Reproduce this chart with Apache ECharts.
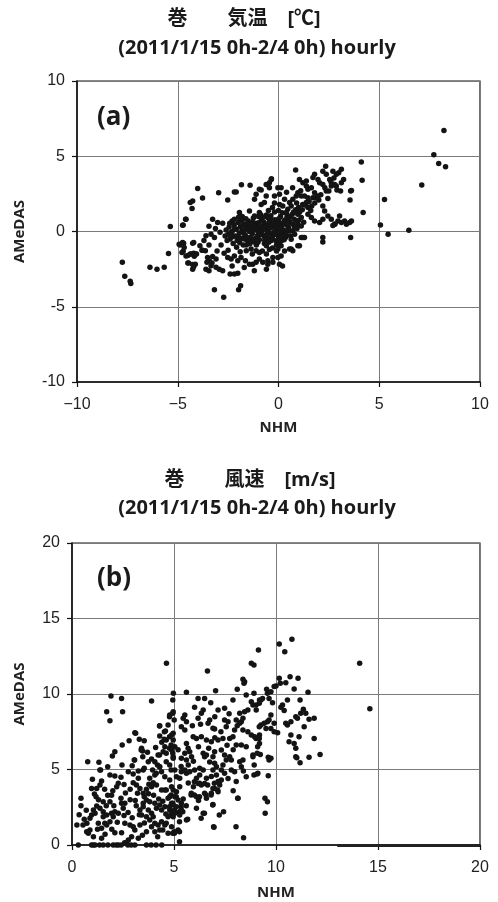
<!DOCTYPE html>
<html>
<head>
<meta charset="utf-8">
<script src="https://cdn.jsdelivr.net/npm/echarts@6/dist/echarts.min.js"></script>
<style>
  html, body { margin: 0; padding: 0; background: #fff; }
  #chart { width: 498px; height: 902px; }
</style>
</head>
<body>
<div id="chart"></div>
<script>
// Panel titles
const tempTitle = '巻　　気温　[℃]';
const windTitle = '巻　　風速　[m/s]';
const periodText = '(2011/1/15 0h-2/4 0h) hourly';

// Axis ticks
const tempTicks = [-10, -5, 0, 5, 10];
const windTicks = [0, 5, 10, 15, 20];

// (a) air temperature, hourly pairs [NHM, AMeDAS] in °C
const tempPoints = [
  [-7.75,-2.05],[-7.63,-2.98],[-7.36,-3.3],[-7.33,-3.45],[-6.38,-2.38],[-6.03,-2.5],[-5.67,-2.38],[-5.46,-1.46],[-5.37,0.33],
  [-4.89,-0.89],[-4.71,-0.78],[-4.73,0.44],[-4.61,0.81],[-4.73,-1.32],[-4.5,-1.6],[-4.5,-2.1],[-4.38,1.92],[-4.26,2.03],[-4.29,1.52],[-4.01,2.85],[-3.77,2.23],
  [-4.21,-0.73],[-4.38,-1.5],[-4.21,-1.45],[-4.07,-1.5],[-4.26,-2.5],[-4.21,-2.35],[-3.77,-1.24],[-4.93,-0.84],[-4.76,-0.73],[-4.68,-1.06],[-4.26,-0.78],
  [-4.79,-1.39],[-4.59,-1.62],[-4.34,-1.5],[-4.18,-1.65],[-4.1,-1.5],[-4.46,-2.1],[-4.26,-2.2],[-4.13,-2.17],[-3.8,-1.24],[-3.63,-1.28],
  [-3.52,-1.72],[-3.43,-1.95],[-3.27,-1.66],[-3.1,-1.83],[-3.35,-2.28],[-3.1,-2.38],[-2.94,-2.5],[-2.77,-2.6],[-3.6,-2.5],[-3.45,-2.6],[-3.3,-2.1],[-3.55,-2.05],
  [-2.52,-1.72],[-2.35,-1.83],[-2.19,-1.62],[-2.02,-1.95],[-1.86,-1.72],[-2.4,-2.83],[-2.19,-2.83],[-2.02,-2.78],[-3.18,-3.87],[-2.72,-4.37],[-1.98,-3.87],[-1.88,-3.6],
  [-1.64,-1.95],[-1.44,-2.17],[-1.28,-2.17],[-1.11,-2.05],[-1.6,-1.28],[-1.36,-1.17],[-1.11,-1.28],[-0.95,-1.39],[-0.95,-1.83],[-0.78,-2.05],[-0.53,-1.95],
  [-2.97,2.58],[-2.52,2.1],[-2.19,2.62],[-2.1,2.62],[-1.84,3.11],[-1.41,3.07],[-0.95,2.8],[-0.86,2.76],[-1.11,2.47],[-1.19,2.14],[-0.53,3.1],[-0.61,2.36],[-0.45,3.24],[-0.35,3.51],
  [-4.59,0.81],[-4.76,0.42],[-3.27,0.81],[-3.02,0.6],[-2.77,0.55],[-3.13,0.2],[-1.94,1.26],[-2.19,0.81],[-1.78,0.81],[-1.44,1.36],[-1.19,1.03],[-0.95,1.26],[-0.86,1.8],[-0.7,1.92],
  [-3.6,-0.29],[-3.35,-0.18],[-3.18,-0.4],[-3.7,-0.6],[-3.45,-0.9],
  [-2.6,0.1],[-2.5,-0.2],[-2.45,0.3],[-2.4,-0.5],[-2.3,0.0],[-2.25,-0.8],[-2.2,0.45],[-2.15,-0.3],[-2.1,0.15],[-2.05,-0.6],[-2.0,0.6],[-1.95,-0.1],
  [-1.9,0.3],[-1.85,-0.45],[-1.8,0.05],[-1.75,-0.9],[-1.7,0.5],[-1.65,-0.25],[-1.6,0.2],[-1.55,-0.6],[-1.5,0.7],[-1.45,0.0],[-1.4,-0.4],[-1.35,0.35],
  [-1.3,-0.15],[-1.25,0.9],[-1.2,-0.7],[-1.15,0.1],[-1.1,0.55],[-1.05,-0.3],[-1.0,0.25],[-0.95,-0.55],[-0.9,0.0],[-0.85,0.75],[-0.8,-0.2],[-0.75,0.4],
  [-0.7,-0.8],[-0.65,0.15],[-0.6,1.1],[-0.55,-0.4],[-0.5,0.5],[-0.45,-0.1],[-0.4,0.85],[-0.35,-0.6],[-0.3,0.3],[-0.25,-0.25],[-0.2,1.3],[-0.15,0.05],
  [-0.1,-0.9],[-0.05,0.6],[0.0,-0.35],[0.05,0.2],[0.1,1.0],[0.15,-0.6],[0.2,0.45],[0.25,-0.1],[0.3,0.75],[0.35,-0.4],[0.4,1.2],[0.45,0.1],
  [-2.35,-0.05],[-2.0,-0.35],[-1.9,0.7],[-1.7,-0.5],[-1.55,0.15],[-1.35,-0.6],[-1.2,0.4],[-1.0,-0.1],[-0.85,0.3],[-0.7,-0.35],[-0.55,0.05],[-0.45,0.65],
  [-0.3,-0.5],[-0.15,0.4],[-0.05,-0.15],[0.1,0.55],[0.2,-0.3],[-1.6,-0.9],[-1.1,-0.9],[-0.6,-0.95],[-2.3,0.7],[-1.8,1.0],[-1.0,1.0],[-0.75,0.95],
  [-2.55,-0.6],[-2.42,0.55],[-2.28,-0.35],[-2.18,0.2],[-2.08,-1.05],[-1.98,0.95],[-1.92,-0.75],[-1.78,0.38],[-1.72,-0.12],[-1.62,0.85],[-1.58,-0.38],[-1.48,0.42],
  [-1.42,-0.82],[-1.32,0.12],[-1.28,0.62],[-1.18,-0.48],[-1.12,0.28],[-1.02,-0.72],[-0.98,0.58],[-0.92,-0.22],[-0.88,1.12],[-0.82,0.08],[-0.72,0.62],[-0.68,-0.58],
  [-0.62,0.32],[-0.58,-0.18],[-0.52,0.92],[-0.48,-0.72],[-0.42,0.22],[-0.38,1.05],[-0.32,-0.32],[-0.28,0.55],[-0.22,-0.05],[-0.18,0.78],[-0.12,-0.62],[-0.08,0.32],
  [0.02,0.85],[0.08,-0.08],[0.12,0.35],[0.18,1.25],[0.22,0.12],[0.28,-0.55],[0.32,0.52],[0.38,-0.2],[0.42,0.95],[0.5,0.25],[0.55,0.65],[0.6,-0.3],
  [0.68,1.15],[0.72,0.05],[0.78,0.82],[0.85,1.45],[0.92,0.2],[1.0,0.75],[1.05,1.3],[1.18,1.45],[1.25,0.62],[1.35,1.75],[1.52,2.0],[1.65,1.7],
  [1.85,2.25],[2.1,2.45],[2.3,2.9],[2.45,2.2],[2.6,3.3],[2.75,3.55],[2.9,2.75],
  [-3.9,-0.95],[-3.05,-1.3],[-2.85,-0.9],[-2.7,-1.45],[-2.65,-0.3],[-2.9,-0.05],[-3.45,0.35],[-2.5,-1.25],[-1.3,-1.5],[-0.8,-1.3],[-1.9,-1.35],
  [-2.3,-2.3],[-1.7,-2.4],[-1.2,-2.6],[-0.6,-2.5],[0.2,-2.3],
  [-0.3,-1.1],[-0.1,-1.3],[0.13,-0.95],[-0.03,-1.17],[0.13,-1.62],[-0.03,-1.72],[-0.28,-1.72],[-0.28,-2.05],[-0.53,-2.17],[0.05,-2.17],[0.3,-1.3],[-0.6,-1.5],[-0.45,-1.2],
  [-0.03,2.91],[0.13,2.91],[0.05,2.47],[-0.2,2.36],[-0.36,3.46],[-0.45,2.9],[-0.61,3.13],[0.3,2.14],[0.46,1.48],[0.38,1.26],[0.21,1.69],[0.05,1.8],[-0.3,1.6],[-0.5,1.4],[0.0,1.4],[-0.2,1.9],
  [4.11,4.61],[4.15,3.4],[4.2,1.26],[3.58,2.69],[3.55,2.09],[3.12,4.13],[2.99,3.9],[2.87,3.8],[2.7,4.01],[2.34,4.34],[2.2,4.01],[2.37,3.8],[2.54,3.46],
  [3.23,3.46],[3.12,3.24],[2.87,3.02],[2.79,3.13],[2.62,3.02],[3.08,2.69],[2.5,2.69],[2.37,2.69],[1.79,3.8],[1.71,3.58],[1.96,3.46],[2.04,3.24],[2.2,3.13],[0.85,4.08],
  [1.04,3.46],[1.21,3.24],[1.38,3.35],[1.38,3.02],[1.46,2.8],[1.63,2.91],[1.79,2.58],[1.96,2.36],[1.71,2.25],[1.46,2.25],[1.29,2.36],[1.13,2.36],[0.96,2.58],[0.88,2.36],[0.71,2.14],[0.55,1.92],[0.63,1.69],
  [1.38,1.92],[1.46,1.59],[1.46,1.15],[1.63,0.93],[1.79,0.7],[2.04,0.59],[2.2,0.81],[2.2,1.69],[2.29,1.36],[2.45,1.03],[2.62,0.81],[2.79,0.48],[2.95,0.7],[3.12,0.59],[3.28,0.7],[3.37,0.48],[3.62,0.7],
  [3.58,-0.4],[2.2,-0.4],[2.2,-0.69],[1.13,-0.4],[1.29,-0.4],
  [0.96,0.48],[1.13,0.37],[0.8,0.26],[0.71,0.48],[0.88,0.7],[1.13,0.93],[0.96,1.15],[0.46,0.37],[0.55,0.04],[0.8,-0.18],[0.63,-0.51],[0.96,-0.95],[0.63,-1.17],
  [0.6,1.0],[0.75,1.3],[1.0,1.6],[1.2,1.8],[0.9,1.9],[0.5,0.8],[1.6,1.4],[1.8,1.9],[2.0,2.1],[1.1,2.7],[0.7,2.9],[0.4,2.6],
  [3.03,1.03],[3.53,0.6],[2.8,0.5],[2.7,0.4],[1.21,-0.4],[1.04,-0.95],[0.55,-1.17],[0.71,-1.28],[0.05,-0.7],
  [8.21,6.71],[7.71,5.1],[7.95,4.52],[8.29,4.3],[7.11,3.09],[5.26,2.12],[5.06,0.44],[5.44,-0.18],[6.47,0.09],[3.62,2.73]
];

// (b) wind speed, hourly pairs [NHM, AMeDAS] in m/s
const windPoints = [
  [0.31,0],[0.96,0],[1.05,0],[1.13,0],[1.35,0],[1.53,0],[1.76,0],[2.02,0],[2.17,0],[2.27,0],[2.41,0],[2.58,0.15],[2.67,0.15],[2.74,0],[2.9,0],[3.08,0],[3.65,0],[3.88,0],[4.12,0],[4.4,0],[5.27,0.22],
  [0.24,1.32],[0.54,1.32],[0.73,1.44],[0.72,0.88],[0.8,0.77],[0.88,0.99],[1.29,1.44],[1.45,1.11],[1.05,0.55],[1.45,0.44],[2.1,0.81],[2.43,0.81],[2.59,1.44],[2.84,1.32],[3.0,1.21],[3.08,0.99],[3.33,1.32],[2.92,0.55],[3.25,0.44],[2.76,0.33],
  [1.21,2.58],[1.05,2.32],[0.96,1.99],[0.88,1.77],[1.13,2.1],[1.37,2.43],[1.53,2.21],[1.53,1.87],[1.7,1.99],[1.94,2.1],[2.1,2.21],[2.27,2.1],[2.02,1.87],[1.86,1.54],[1.7,1.32],[1.61,1.44],
  [0.44,3.09],[0.44,2.6],[1.53,2.87],[1.86,2.87],[2.43,2.76],[2.59,2.76],[2.51,2.43],[1.1,3.38],[1.18,3.2],[1.75,3.29],[1.94,3.29],[1.45,4.24],[1.37,3.97],[1.21,3.75],[0.96,3.75],[2.27,4.09],[2.19,3.86],
  [1.86,4.64],[2.1,4.57],[2.4,4.48],[2.76,4.85],[3.0,4.7],[1.37,4.97],[1.75,5.19],[0.77,5.52],[1.32,5.48],[1.4,4.97],
  [1.25,1.05],[1.62,0.72],[1.95,1.05],[2.22,1.5],[2.55,1.95],[2.75,2.15],[2.95,1.8],[3.15,2.6],[2.85,3.0],[2.62,3.45],[2.4,3.1],[2.05,2.6],[1.68,2.6],[1.3,3.0],
  [0.7,2.3],[0.6,1.7],[0.35,2.0],[1.0,4.35],[1.6,3.7],[2.0,3.6],[2.55,4.0],[2.85,3.7],[3.1,2.95],[3.3,2.0],[3.55,1.45],[3.75,3.4],[4.0,3.3],[4.25,3.05],
  [4.45,2.9],[4.6,2.05],[4.45,1.0],[4.2,0.55],[3.45,0.65],[2.45,5.3],[2.95,5.25],[3.25,4.9],[3.7,6.15],[4.1,6.45],[4.4,6.8],
  [3.49,4.97],[3.54,5.08],[3.95,4.97],[4.19,5.3],[4.3,5.19],[4.39,4.85],[4.06,4.64],[3.81,4.42],[3.98,4.13],[3.77,4.02],[3.9,3.86],[3.65,3.69],[3.49,3.42],[3.54,3.2],
  [3.49,2.54],[3.74,2.32],[3.9,2.1],[3.98,1.87],[3.65,1.87],[3.41,1.99],[3.33,2.32],[3.49,2.76],[3.65,2.98],[3.81,2.87],[4.06,2.76],[4.3,2.65],[4.14,2.43],[4.39,2.32],[4.55,2.54],[4.71,3.09],
  [4.88,2.76],[4.79,2.32],[4.71,1.87],[4.88,1.99],[4.39,1.54],[4.55,1.32],[4.22,1.32],[4.06,1.44],[3.81,1.66],[3.9,1.21],[3.65,0.88],[4.06,0.88],[4.3,0.99],[4.71,0.77],[4.88,1.21],
  [3.21,3.42],[3.33,3.75],[3.16,3.97],[3.0,4.13],[3.25,4.42],[4.14,3.97],[4.39,3.64],[4.55,3.64],[4.88,3.86],[4.79,3.2],[4.55,4.52],[4.79,4.3],
  [4.62,3.64],[4.86,3.31],[5.11,3.2],[4.94,2.76],[4.78,2.54],[5.02,2.32],[5.35,2.54],[5.27,2.21],[4.86,2.1],[5.43,2.21],[4.62,1.44],[4.94,0.77],[5.27,1.54],[5.27,0.88],[5.02,0.77],
  [5.67,1.7],[6.33,1.77],[6.49,2.1],[6.9,2.65],[7.43,2.21],[7.22,1.99],[8.12,3.09],[9.46,3.09],[9.58,2.87],[9.47,2.1],[6.94,1.21],[8.04,1.21],[8.41,0.48],
  [6.0,4.19],[6.25,4.09],[6.65,3.97],[6.98,4.09],[7.22,4.19],[5.84,3.31],[6.0,3.31],[6.25,3.2],[6.57,3.31],[6.82,3.31],[7.14,3.64],
  [4.63,12.03],[1.91,9.87],[2.43,9.71],[3.9,9.54],[1.7,8.83],[2.48,8.83],[1.86,8.23],[3.08,7.44],[4.3,7.9],[4.58,7.55],[4.3,7.22],[4.52,7.0],[3.54,6.91],[3.41,6.4],[3.46,6.23],
  [2.46,6.62],[2.1,6.18],[1.98,5.89],[3.05,5.63],[3.9,5.7],[4.22,5.96],[4.47,6.18],[4.55,6.51],
  [4.97,10.05],[4.94,9.6],[5.61,10.11],[4.78,8.5],[4.94,8.72],[4.29,7.88],[4.53,7.5],[4.78,7.17],[4.62,6.95],[4.86,6.62],[3.12,7.4],[3.07,5.63],[3.39,6.29],[3.47,5.85],
  [4.29,5.96],[4.62,6.07],[4.78,6.4],[4.94,6.07],[4.13,4.75],[4.29,5.19],[4.62,5.52],[4.86,4.97],[4.79,8.61],[4.71,7.95],[4.88,7.28],[4.96,6.95],[4.88,6.29],[4.96,5.74],[4.79,5.3],
  [3.74,5.52],[4.06,5.52],[2.8,6.9],[3.3,7.0],
  [4.96,3.64],[5.12,3.53],[5.28,3.86],[5.04,3.2],[5.2,2.98],[5.36,2.76],[4.96,2.65],[5.12,2.54],[5.36,2.32],[5.04,2.1],[5.28,1.99],[4.96,1.87],
  [5.12,4.52],[5.28,4.42],[5.04,4.97],[4.96,5.85],[5.04,6.51],[4.96,7.4],[5.01,8.28],[4.96,8.83],
  [5.2,6.3],[5.35,5.2],[5.7,5.3],[5.95,5.55],[6.2,6.5],[6.7,6.4],[7.0,7.1],[7.3,7.5],[7.6,6.6],[7.9,6.3],[8.1,7.9],[5.9,7.9],[6.3,8.0],[7.0,8.5],[7.7,8.7],
  [5.7,4.1],[5.95,3.85],[6.75,5.5],[7.65,4.4],[8.05,4.2],[8.4,4.9],[7.9,3.6],[5.45,3.05],[5.6,2.6],[6.2,2.95],
  [9.14,12.91],[8.79,12.03],[8.92,11.92],[6.64,11.52],[8.38,10.97],[8.46,10.81],[8.43,10.71],[7.04,10.22],[8.1,10.31],[8.54,9.93],[8.92,10.05],
  [6.18,9.71],[6.5,9.71],[6.8,9.42],[6.01,9.12],[7.89,9.6],[7.48,9.05],[7.16,8.94],
  [8.79,9.49],[8.87,9.27],[9.19,9.6],[9.03,8.94],[8.62,8.94],[8.46,8.83],[8.22,8.72],[8.38,8.39],
  [5.53,8.61],[5.45,8.39],[5.61,8.17],[5.36,7.83],[5.53,7.62],
  [6.43,8.94],[6.34,8.72],[6.18,8.39],[6.75,8.28],[6.67,8.06],[6.91,7.73],[6.99,7.68],
  [7.48,8.28],[7.65,8.17],[7.56,7.83],[8.05,8.28],[8.22,8.06],[8.3,8.17],[7.97,7.62],[8.38,7.62],[8.62,7.5],[8.79,7.28],[8.95,7.17],[9.19,7.28],[9.19,6.73],
  [5.94,7.17],[6.1,7.06],[6.34,7.17],[6.59,6.95],[6.83,6.84],[7.16,6.95],[7.4,7.06],[7.73,7.06],[7.89,7.17],[8.05,6.62],[8.3,6.62],[8.54,6.51],[8.87,5.96],[9.08,6.07],
  [5.61,6.73],[5.69,6.4],[5.77,6.18],[5.53,6.07],[5.86,5.85],[5.61,5.63],[5.36,5.74],
  [6.43,6.07],[6.5,5.85],[6.59,5.96],[6.91,5.85],[6.99,6.18],[7.32,6.29],[7.48,5.96],[7.73,5.85],[7.81,5.63],[8.22,5.52],[8.38,5.63],[8.3,5.19],[8.87,5.85],[8.54,4.52],[8.92,4.64],[9.11,4.75],
  [6.99,5.41],[7.08,5.19],[6.91,4.97],[7.4,5.3],[7.32,4.97],[7.56,5.63],[7.48,4.75],[7.81,4.97],[7.97,4.85],
  [5.53,4.97],[5.36,4.85],[5.61,4.75],[5.77,4.85],[6.01,4.97],[6.26,5.08],[6.43,4.97],[6.26,4.64],[6.1,4.42],[6.18,4.08],[6.34,3.97],[6.5,4.08],[6.59,4.42],[6.83,4.53],[7.08,4.64],
  [7.16,4.2],[7.32,4.3],[7.24,3.97],[6.99,3.75],[7.16,3.53],[6.91,3.75],
  [5.85,3.42],[6.1,3.2],[6.5,3.42],[6.59,3.09],[6.83,3.42],
  [8.14,3.09],[6.91,2.69],[6.1,2.43],[6.43,2.1],[5.61,1.66],[6.96,1.17],[5.01,0.88],[5.2,0.99],
  [10.78,13.62],[10.16,13.31],[10.43,12.8],
  [10.16,11.04],[10.21,10.71],[10.0,10.53],[9.91,10.49],[10.48,10.75],[10.69,11.15],[11.08,11.04],[10.89,10.33],[11.57,10.11],
  [9.54,10.31],[9.75,10.15],[9.58,10.05],[9.66,9.71],[9.83,9.42],[9.34,9.71],[9.26,9.6],[9.18,9.38],[9.02,9.27],
  [10.56,9.6],[10.32,9.27],[10.4,8.9],[10.24,9.12],[11.18,9.6],[11.34,8.99],[11.21,8.72],[11.46,8.72],[11.62,8.32],[11.87,8.39],[11.38,7.83],[10.97,8.5],[11.05,8.39],[10.73,8.17],[10.56,7.95],[10.48,8.06],
  [9.75,8.61],[9.66,8.28],[9.58,8.17],[9.42,8.06],[9.26,7.95],[9.18,7.83],[9.51,7.72],[9.75,7.72],[9.91,8.06],[10.08,7.44],[9.91,7.5],
  [10.73,7.28],[10.89,6.73],[10.97,6.4],[11.13,7.17],[10.64,6.84],[11.87,7.06],
  [10.97,5.85],[11.18,5.45],[11.62,5.81],[12.16,6.0],[11.02,5.78],
  [9.23,6.0],[9.1,6.51],[9.18,7.06],[9.02,7.06],[9.62,5.81],[9.75,5.74],[9.66,5.63],[8.93,5.3],
  [9.07,4.7],[9.62,4.59],
  [14.1,12.03],[14.6,9.03]
];

// heavy baseline stretch along y = 0 on the wind panel
const windBaseline = [[13, 0], [20, 0]];

const labelFont = 'Liberation Sans, DejaVu Sans, sans-serif';
const boldFont = 'Open Sans, Noto Sans, sans-serif';
const cjkFont = 'Open Sans, Noto Sans CJK JP, sans-serif';

const chart = echarts.init(document.getElementById('chart'), null, { renderer: 'canvas' });

function valueAxis(gridIndex, min, max, extra) {
  return Object.assign({
    type: 'value', gridIndex, min, max, interval: 5,
    axisLine: { show: true, onZero: false, lineStyle: { color: '#111', width: 1.5 } },
    axisTick: { show: true, inside: false, length: 5, lineStyle: { color: '#111', width: 1.2 } },
    splitLine: { show: true, lineStyle: { color: '#7a7a7a', width: 1 } },
    axisLabel: { color: '#222', fontSize: 16, fontFamily: labelFont }
  }, extra);
}

const axisNameStyle = { color: '#222', fontSize: 15, fontWeight: 'bold', fontFamily: boldFont };
const titleStyle = { fontSize: 20, fontWeight: 'bold', color: '#1a1a1a', fontFamily: cjkFont };
const periodStyle = { fontSize: 20, fontWeight: 'bold', color: '#1a1a1a', fontFamily: boldFont };
const panelStyle = { fontSize: 26, fontWeight: 'bold', color: '#1a1a1a', fontFamily: boldFont };

chart.setOption({
  animation: false,
  backgroundColor: '#fff',
  title: [
    { text: tempTitle, left: 239, top: 4, textAlign: 'center', textStyle: titleStyle },
    { text: periodText, left: 252, top: 33, textAlign: 'center', textStyle: periodStyle },
    { text: windTitle, left: 245, top: 465, textAlign: 'center', textStyle: titleStyle },
    { text: periodText, left: 252, top: 493, textAlign: 'center', textStyle: periodStyle },
    { text: '(a)', left: 92, top: 100, textStyle: panelStyle },
    { text: '(b)', left: 92, top: 561, textStyle: panelStyle }
  ],
  grid: [
    { left: 77, top: 81, width: 403, height: 301, show: true, borderColor: '#111', borderWidth: 1.2, backgroundColor: 'transparent' },
    { left: 72, top: 543, width: 408, height: 302, show: true, borderColor: '#111', borderWidth: 1.2, backgroundColor: 'transparent' }
  ],
  xAxis: [
    valueAxis(0, tempTicks[0], tempTicks[tempTicks.length - 1], {
      name: 'NHM', nameLocation: 'middle', nameGap: 38, nameTextStyle: axisNameStyle,
      axisLabel: { color: '#222', fontSize: 16, fontFamily: labelFont, margin: 15,
        formatter: v => String(v).replace('-', '\u2212') }
    }),
    valueAxis(1, windTicks[0], windTicks[windTicks.length - 1], {
      name: 'NHM', nameLocation: 'middle', nameGap: 40, nameTextStyle: axisNameStyle,
      axisLabel: { color: '#222', fontSize: 16, fontFamily: labelFont, margin: 15 }
    })
  ],
  yAxis: [
    valueAxis(0, tempTicks[0], tempTicks[tempTicks.length - 1], {
      name: 'AMeDAS', nameLocation: 'middle', nameGap: 50, nameTextStyle: axisNameStyle,
      axisLabel: { color: '#222', fontSize: 16, fontFamily: labelFont, margin: 12 }
    }),
    valueAxis(1, windTicks[0], windTicks[windTicks.length - 1], {
      name: 'AMeDAS', nameLocation: 'middle', nameGap: 45, nameTextStyle: axisNameStyle,
      axisLabel: { color: '#222', fontSize: 16, fontFamily: labelFont, margin: 12 }
    })
  ],
  series: [
    {
      type: 'scatter', xAxisIndex: 0, yAxisIndex: 0, data: tempPoints,
      symbolSize: 5.5, itemStyle: { color: '#141414', opacity: 1 }, silent: true
    },
    {
      type: 'scatter', xAxisIndex: 1, yAxisIndex: 1, data: windPoints,
      symbolSize: 5.5, itemStyle: { color: '#141414', opacity: 1 }, silent: true,
      markLine: {
        silent: true, symbol: 'none', label: { show: false },
        lineStyle: { color: '#222', width: 3, type: 'solid' },
        data: [[{ coord: windBaseline[0] }, { coord: windBaseline[1] }]]
      }
    }
  ]
});
</script>
</body>
</html>
